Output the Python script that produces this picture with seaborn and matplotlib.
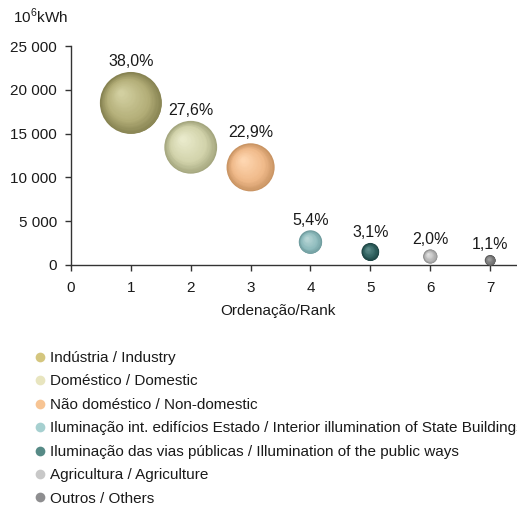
import numpy as np
import pandas as pd
import matplotlib
matplotlib.use("Agg")
import matplotlib.pyplot as plt
import matplotlib.transforms as mtransforms
from matplotlib.colors import to_rgb
from matplotlib.lines import Line2D
from matplotlib.ticker import FuncFormatter
import seaborn as sns

# Electricity consumption by sector, ranked (10^6 kWh)
categories = [
    "Indústria / Industry",
    "Doméstico / Domestic",
    "Não doméstico / Non-domestic",
    "Iluminação int. edifícios Estado / Interior illumination of State Buildings",
    "Iluminação das vias públicas / Illumination of the public ways",
    "Agricultura / Agriculture",
    "Outros / Others",
]
ranks = [1, 2, 3, 4, 5, 6, 7]
consumption = [18500, 13440, 11150, 2630, 1510, 970, 540]
share_labels = ["38,0%", "27,6%", "22,9%", "5,4%", "3,1%", "2,0%", "1,1%"]

# sphere shading: edge, body, highlight
sphere_edge = ["#878352", "#a4a67e", "#c99463", "#6e9b9d", "#1f4443", "#8e8e8e", "#595959"]
sphere_body = ["#b3ae78", "#d2d3ab", "#f0ba8a", "#8fbcbe", "#2f605e", "#b6b6b6", "#797979"]
sphere_light = ["#d2cfa0", "#e9eacb", "#fed6b0", "#b8d6d6", "#5e8d8b", "#e2e2e2", "#a0a0a0"]
legend_colors = ["#d4c67e", "#e8e5bf", "#f7c493", "#a6d0d0", "#568a86", "#c8c8c8", "#8e8e90"]

df = pd.DataFrame({"categoria": categories, "rank": ranks, "valor": consumption})

plt.rcParams["font.family"] = ["Liberation Sans", "DejaVu Sans"]
plt.rcParams["mathtext.fontset"] = "custom"
plt.rcParams["mathtext.rm"] = "Liberation Sans"

W, H, DPI = 517, 507, 100
fig = plt.figure(figsize=(W / DPI, H / DPI), dpi=DPI)
ax = fig.add_axes([71 / W, (H - 265) / H, (517 - 71) / W, (265 - 46) / H])

# marker area proportional to consumption
max_s = 1990.0
size_map = {c: max_s * v / max(consumption) for c, v in zip(categories, consumption)}

sns.scatterplot(
    data=df, x="rank", y="valor", hue="categoria", size="categoria",
    palette=dict(zip(categories, sphere_edge)), sizes=size_map,
    linewidth=0, legend=False, ax=ax, zorder=3,
)

def ramp(t, c0, c1, c2):
    c0, c1, c2 = map(np.array, (to_rgb(c0), to_rgb(c1), to_rgb(c2)))
    if t < 0.35:
        u = t / 0.35
        return tuple(c0 + (c1 - c0) * u)
    u = (t - 0.35) / 0.65
    return tuple(c1 + (c2 - c1) * u)

# concentric layers shifted up-left to give a spherical look
n_layers = 28
for i, (x, y, c) in enumerate(zip(ranks, consumption, categories)):
    r_pt = np.sqrt(size_map[c]) / 2
    for k in range(1, n_layers):
        t = k / (n_layers - 1)
        rk = r_pt * (1 - 0.9 * t)
        d = (r_pt - rk) * 0.5 / np.sqrt(2)
        off = mtransforms.ScaledTranslation(-d / 72, d / 72, fig.dpi_scale_trans)
        ax.scatter([x], [y], s=(2 * rk) ** 2, color=ramp(t, sphere_edge[i], sphere_body[i], sphere_light[i]),
                   linewidth=0, transform=ax.transData + off, zorder=3 + k * 0.01)
    ax.annotate(share_labels[i], xy=(x, y), xytext=(0, r_pt + 2), textcoords="offset points",
                ha="center", va="bottom", fontsize=11.5, color="#1a1a1a", zorder=5)

ax.set_xlim(0, 7.45)
ax.set_ylim(0, 25000)
ax.set_xticks(range(0, 8))
ax.set_yticks(range(0, 25001, 5000))
ax.yaxis.set_major_formatter(FuncFormatter(lambda v, p: f"{int(v):,}".replace(",", " ")))
ax.tick_params(direction="out", length=4, width=1, color="#333333", labelsize=11,
               labelcolor="#1a1a1a", pad=6)
ax.tick_params(axis="x", pad=7.5)
for side in ("top", "right"):
    ax.spines[side].set_visible(False)
for side in ("left", "bottom"):
    ax.spines[side].set_color("#333333")
    ax.spines[side].set_linewidth(1)
ax.set_facecolor("none")
ax.set_xlabel("Ordenação/Rank", fontsize=11, color="#1a1a1a")
ax.set_ylabel("")
ax.xaxis.set_label_coords((278 - 71) / 446, -0.18)

fig.text(13 / W, 1 - 16 / H, r"10$^{6}$kWh", fontsize=11, color="#1a1a1a", va="center", ha="left")

handles = [Line2D([0], [0], marker="o", linestyle="none", markersize=7,
                  markerfacecolor=col, markeredgewidth=0) for col in legend_colors]
fig.legend(handles, categories, loc="upper left", bbox_to_anchor=(34 / W, 1 - 351 / H),
           frameon=False, fontsize=11, handlelength=0.8, handletextpad=0.25,
           labelspacing=0.62, borderaxespad=0, borderpad=0, labelcolor="#1a1a1a")

fig.savefig("out.png", dpi=DPI)
